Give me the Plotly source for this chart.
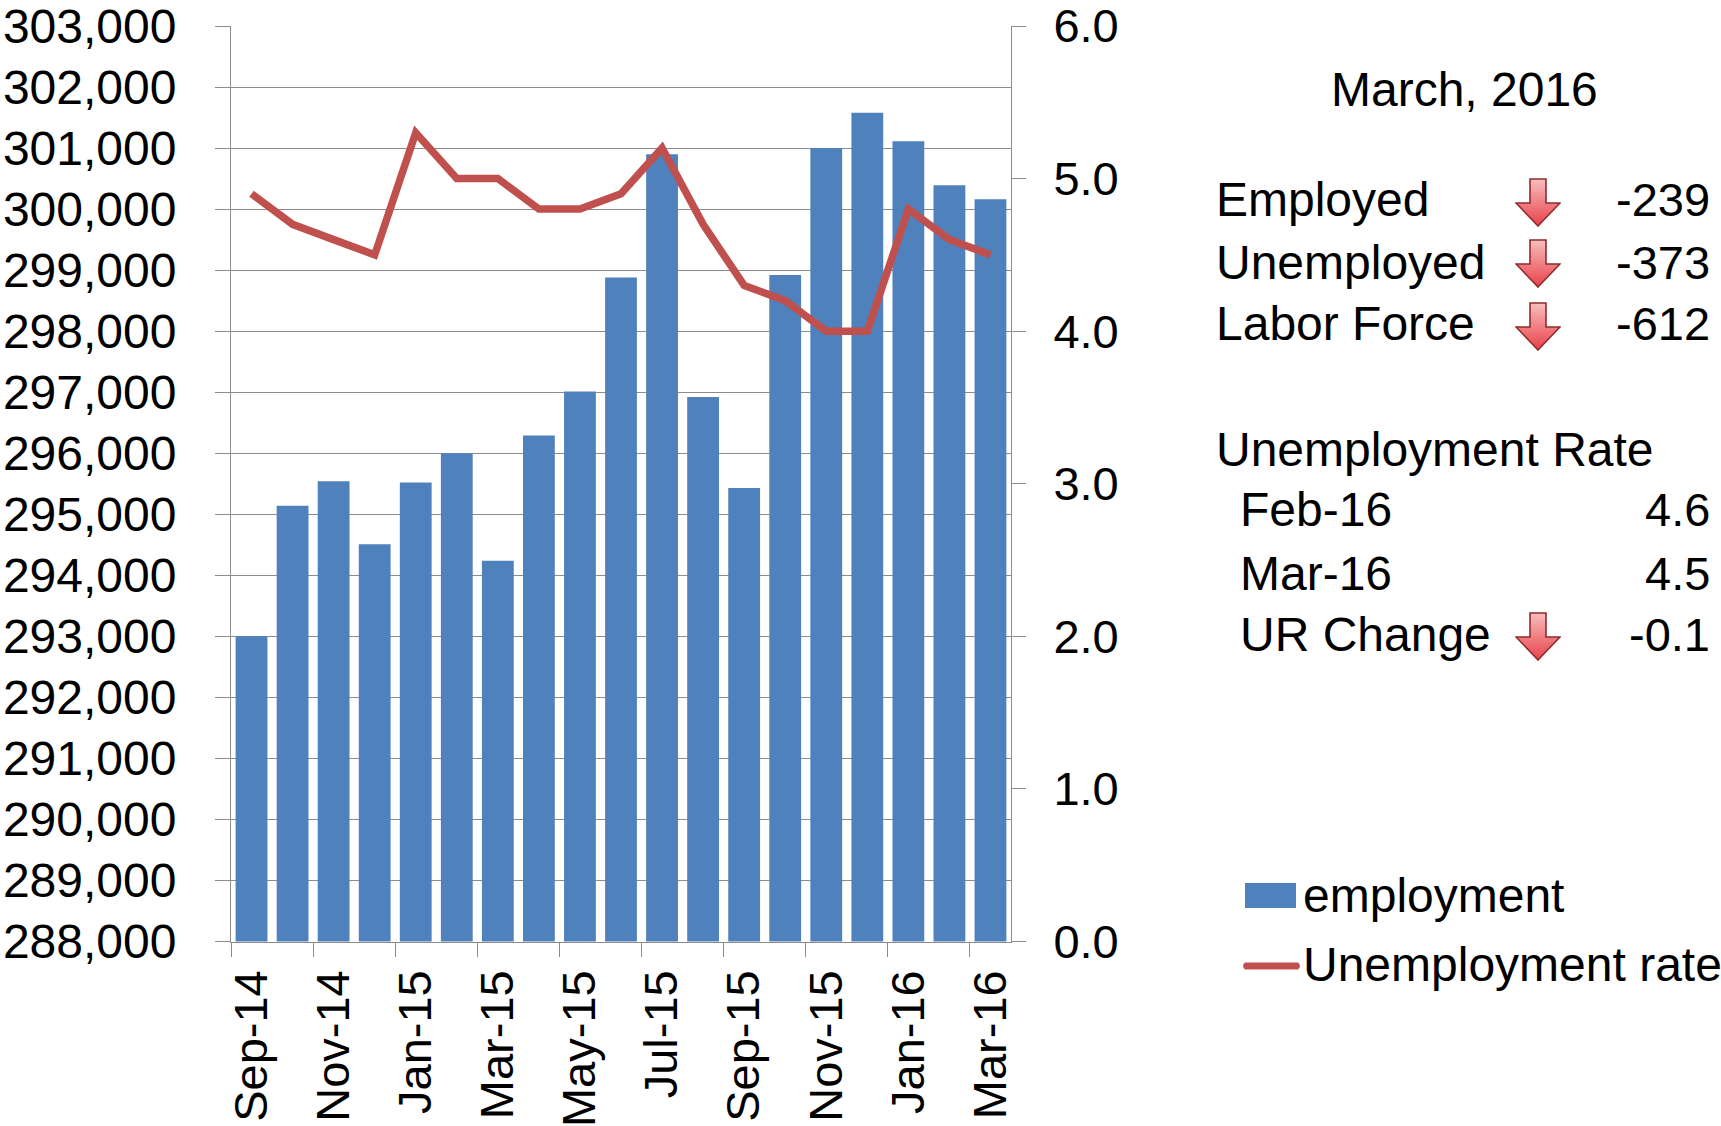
import base64
import plotly.graph_objects as go

W, H = 1721, 1126
months = ["Sep-14","Oct-14","Nov-14","Dec-14","Jan-15","Feb-15","Mar-15","Apr-15","May-15","Jun-15",
          "Jul-15","Aug-15","Sep-15","Oct-15","Nov-15","Dec-15","Jan-16","Feb-16","Mar-16"]
employment = [293000,295140,295540,294510,295520,296000,294240,296290,297010,298880,
              300900,296920,295430,298920,301000,301580,301110,300390,300160]
unemployment_rate = [4.9,4.7,4.6,4.5,5.3,5.0,5.0,4.8,4.8,4.9,5.2,4.7,4.3,4.2,4.0,4.0,4.8,4.6,4.5]
left_ticks = list(range(288000, 303001, 1000))
right_ticks = [0,1,2,3,4,5,6]
x_labels = months[::2]
x_tick_positions = [i - 0.5 for i in range(0, len(months), 2)]

title_text = "March, 2016"
rows = [("Employed", "-239", 1214, 214, True), ("Unemployed", "-373", 1214, 277, True),
        ("Labor Force", "-612", 1214, 338, True), ("Unemployment Rate", "", 1214, 464, False),
        ("Feb-16", "4.6", 1238, 524, False), ("Mar-16", "4.5", 1238, 588, False),
        ("UR Change", "-0.1", 1238, 649, True)]
arrow_tops = {214: 178, 277: 239, 338: 302, 649: 612}

FONT = "Liberation Sans, Arial, sans-serif"
BLUE, RED, GRID = "#4F81BD", "#C0504D", "#8C8C8C"
px = lambda x: x / W
py = lambda y: 1 - y / H

svg = ('<svg xmlns="http://www.w3.org/2000/svg" viewBox="0 0 46 49" width="46" height="49">'
       '<defs><linearGradient id="g" x1="0" y1="0" x2="0" y2="1"><stop offset="0" stop-color="#F8BDBD"/>'
       '<stop offset="1" stop-color="#E8424A"/></linearGradient></defs>'
       '<path d="M15 1H31V25H45L23 48L1 25H15Z" fill="url(#g)" stroke="#8E2C2C" stroke-width="1.6"/></svg>')
arrow_uri = "data:image/svg+xml;base64," + base64.b64encode(svg.encode()).decode()

fig = go.Figure()
fig.add_bar(x=months, y=employment, marker=dict(color=BLUE, line=dict(width=0)), name="employment", showlegend=False)
fig.add_scatter(x=months, y=unemployment_rate, yaxis="y2", mode="lines", line=dict(color=RED, width=7.5),
                name="Unemployment rate", showlegend=False)
fig.add_scatter(x=[None], y=[None], xaxis="x2", mode="lines", showlegend=False, hoverinfo="skip")


def note(text, x, y, anchor="left", size=48):
    return dict(text=text, x=px(x), y=py(y), xref="paper", yref="paper", xanchor=anchor, yanchor="middle",
                showarrow=False, font=dict(family=FONT, size=size, color="black"))

BASE = 15  # baseline -> text box middle
annots = [note(title_text, 1464, 105 - BASE, "center")]
images = []
for label, val, x, base, arrow in rows:
    annots.append(note(label, x, base - BASE))
    if val:
        annots.append(note(val, 1712, base - BASE, "right", 47))
    if arrow:
        images.append(dict(source=arrow_uri, xref="paper", yref="paper", x=px(1515), y=py(arrow_tops[base]),
                           sizex=46 / W, sizey=49 / H, xanchor="left", yanchor="top", sizing="stretch", layer="above"))
annots.append(note("employment", 1301, 895))
annots.append(note("Unemployment rate", 1301, 964))

shapes = [
    dict(type="rect", xref="paper", yref="paper", x0=px(1245), x1=px(1296), y0=py(883), y1=py(908),
         fillcolor=BLUE, line=dict(width=0)),
    dict(type="path", xref="paper", yref="paper",
         path=f"M {px(1245)} {py(962.5)} L {px(1298)} {py(962.5)} Q {px(1302)} {py(966)} {px(1298)} {py(969.5)} "
              f"L {px(1245)} {py(969.5)} Q {px(1241)} {py(966)} {px(1245)} {py(962.5)} Z",
         fillcolor=RED, line=dict(width=0)),
]

tickfont = dict(family=FONT, size=47, color="black")
leftfont = dict(family=FONT, size=48, color="black")
fig.update_layout(
    width=W, height=H, margin=dict(l=0, r=0, t=0, b=0, autoexpand=False),
    paper_bgcolor="white", plot_bgcolor="white", bargap=0.225, showlegend=False,
    font=dict(family=FONT, color="black"), annotations=annots, images=images, shapes=shapes,
    xaxis=dict(domain=[px(231), px(1011)], type="category", categoryorder="array", categoryarray=months,
               tickmode="array", tickvals=x_labels, ticktext=x_labels, tickangle=-90, ticks="",
               tickfont=tickfont, ticklabelstandoff=9, ticklabeloverflow="allow", showgrid=False, showline=True,
               linecolor=GRID, linewidth=1, range=[-0.5, 18.5], fixedrange=True),
    xaxis2=dict(domain=[px(231), px(1011)], overlaying="x", anchor="y", side="bottom", range=[-0.5, 18.5],
                tickmode="array", tickvals=x_tick_positions, showticklabels=False, ticks="outside", ticklen=14,
                tickcolor=GRID, tickwidth=1, showgrid=False, zeroline=False, showline=False, fixedrange=True),
    yaxis=dict(domain=[py(941.5), py(26)], range=[288000, 303000], tickmode="array", tickvals=left_ticks,
               tickformat=",d", ticks="outside", ticklen=15, tickcolor=GRID, tickfont=leftfont, ticklabelstandoff=29,
               ticklabeloverflow="allow", showgrid=True, gridcolor=GRID, gridwidth=1, showline=True, linecolor=GRID,
               linewidth=1, fixedrange=True),
    yaxis2=dict(domain=[py(941.5), py(26)], range=[0, 6], overlaying="y", side="right", anchor="x",
                tickmode="array", tickvals=right_ticks, tickformat=".1f", ticks="outside", ticklen=14, tickcolor=GRID,
                tickfont=tickfont, ticklabelstandoff=18, ticklabeloverflow="allow", showgrid=False, zeroline=False,
                showline=True, linecolor=GRID, linewidth=1, fixedrange=True),
)
fig.write_html("out.html", config=dict(displayModeBar=False),
               post_script="document.body.style.margin='0';document.body.style.overflow='hidden';")
